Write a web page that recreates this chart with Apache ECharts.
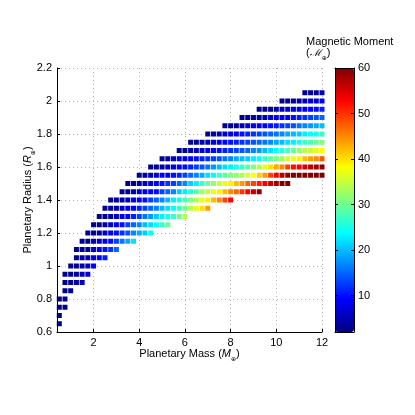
<!DOCTYPE html>
<html><head><meta charset="utf-8">
<script src="https://cdn.jsdelivr.net/npm/echarts@6/dist/echarts.min.js"></script>
<style>html,body{margin:0;padding:0;background:#fff}#c{width:415px;height:415px}</style>
</head><body><div id="c"></div>
<script>
// Tick labels
const xTicks = [2, 4, 6, 8, 10, 12];
const cbTicks = [10, 20, 30, 40, 50, 60];
const massStep = 0.25;

// Magnetic moment per radius row, starting at the row's first mass
const r065 = [2];
const r070 = [2];
const r075 = [2, 3];
const r080 = [2, 3];
const r085 = [3, 3];
const r090 = [3, 3, 4, 5];
const r095 = [3, 3, 4, 5, 7];
const r100 = [3, 3, 4, 6, 9];
const r105 = [3, 4, 5, 7, 9, 11];
const r110 = [3, 3, 4, 6, 8, 10, 12, 15];
const r115 = [3, 3, 4, 6, 8, 10, 13, 16, 19, 22];
const r120 = [3, 3, 4, 6, 8, 10, 12, 14, 17, 19, 21, 24];
const r125 = [3, 3, 4, 6, 8, 10, 13, 15, 17, 20, 22, 24, 27, 30];
const r130 = [3, 3, 4, 6, 8, 9, 11, 13, 16, 18, 21, 23, 25, 27, 30, 34];
const r135 = [3, 3, 4, 6, 8, 9, 11, 13, 15, 17, 20, 22, 24, 27, 30, 34, 37, 40, 44];
const r140 = [3, 3, 4, 6, 8, 9, 10, 13, 15, 17, 20, 23, 25, 28, 31, 34, 37, 39, 42, 45, 49, 53];
const r145 = [3, 3, 4, 6, 8, 9, 10, 13, 15, 17, 21, 23, 26, 29, 33, 35, 37, 39, 42, 45, 47, 50, 53, 56, 59];
const r150 = [3, 3, 4, 6, 7, 9, 10, 12, 13, 15, 17, 21, 23, 27, 30, 32, 35, 37, 39, 42, 44, 47, 49, 51, 53, 56, 58, 60, 60];
const r155 = [3, 4, 5, 7, 8, 9, 10, 11, 13, 15, 17, 19, 22, 24, 27, 29, 31, 32, 34, 36, 38, 41, 44, 49, 53, 57, 59, 60, 60, 60, 60, 60, 60];
const r160 = [3, 3, 4, 6, 8, 9, 10, 11, 13, 14, 16, 18, 20, 22, 23, 25, 27, 29, 31, 34, 37, 40, 43, 45, 49, 52, 53, 55, 57, 58, 59];
const r165 = [3, 4, 5, 7, 8, 9, 10, 11, 12, 13, 14, 16, 17, 19, 20, 21, 23, 24, 27, 29, 31, 33, 36, 37, 39, 42, 44, 45, 48];
const r170 = [3, 3, 4, 5, 6, 8, 9, 10, 11, 12, 13, 14, 15, 17, 18, 20, 22, 24, 26, 28, 30, 32, 34, 35, 37, 38];
const r175 = [3, 3, 4, 5, 7, 8, 9, 10, 11, 12, 13, 14, 15, 16, 17, 19, 20, 22, 23, 25, 27, 28, 30, 31];
const r180 = [3, 4, 5, 6, 8, 9, 10, 11, 12, 13, 14, 15, 16, 17, 19, 20, 21, 23, 24, 25, 27];
const r185 = [3, 3, 4, 5, 7, 8, 9, 9, 10, 11, 12, 13, 14, 16, 17, 18, 19, 20];
const r190 = [3, 3, 4, 4, 5, 7, 8, 9, 9, 10, 11, 12, 13, 14, 15];
const r195 = [3, 3, 3, 4, 5, 6, 7, 8, 9, 9, 10, 11];
const r200 = [3, 3, 3, 4, 5, 6, 7, 8];
const r205 = [3, 3, 4, 5];

// [radius, first mass, values]
const rows = [
  [0.65, 0.5, r065], [0.70, 0.5, r070], [0.75, 0.5, r075], [0.80, 0.5, r080],
  [0.85, 0.75, r085], [0.90, 0.75, r090], [0.95, 0.75, r095], [1.00, 1.0, r100],
  [1.05, 1.25, r105], [1.10, 1.25, r110], [1.15, 1.5, r115], [1.20, 1.75, r120],
  [1.25, 2.0, r125], [1.30, 2.25, r130], [1.35, 2.5, r135], [1.40, 2.75, r140],
  [1.45, 3.25, r145], [1.50, 3.5, r150], [1.55, 4.0, r155], [1.60, 4.5, r160],
  [1.65, 5.0, r165], [1.70, 5.75, r170], [1.75, 6.25, r175], [1.80, 7.0, r180],
  [1.85, 7.75, r185], [1.90, 8.5, r190], [1.95, 9.25, r195], [2.00, 10.25, r200],
  [2.05, 11.25, r205]
];

const points = [];
rows.forEach(([r, m0, vals]) => vals.forEach((v, i) => points.push([m0 + i * massStep, r, v])));

const jet = ['#000080', '#0000ff', '#0080ff', '#00ffff', '#80ff80', '#ffff00', '#ff8000', '#ff0000', '#800000'];
const FONT = 'Liberation Sans, Arial, Helvetica, sans-serif';
const gridLine = { show: true, lineStyle: { color: '#b4b4b4', width: 1, type: [1, 3] } };
const txt = { fontFamily: FONT, fontSize: 11, color: '#000', padding: [0, 0, 3, 0], verticalAlign: 'bottom' };
const it = Object.assign({}, txt, { fontStyle: 'italic' });
const sub = { fontFamily: 'DejaVu Sans, sans-serif', fontSize: 6, color: '#000', verticalAlign: 'bottom' };

const chart = echarts.init(document.getElementById('c'), null, { renderer: 'canvas' });
chart.setOption({
  animation: false,
  backgroundColor: '#fff',
  title: {
    text: 'Magnetic Moment\n{p|(}{m|ℳ}{s|⊕}{p|)}',
    left: 306, top: 35, padding: 0,
    textStyle: {
      fontFamily: FONT, fontSize: 11, fontWeight: 'normal', color: '#000', lineHeight: 13,
      rich: {
        p: { fontFamily: FONT, fontSize: 11, color: '#000', padding: [0, 0, 3, 0], verticalAlign: 'bottom' },
        m: { fontFamily: 'DejaVu Serif, serif', fontSize: 10, fontStyle: 'italic', color: '#000', padding: [0, 0, 3, 0], verticalAlign: 'bottom' },
        s: sub
      }
    }
  },
  grid: [
    { left: 57, right: 93, top: 68, bottom: 83 },
    { left: 335, width: 19, top: 68, height: 264 }
  ],
  xAxis: [
    {
      gridIndex: 0, type: 'value', min: 0.4, max: 12,
      axisLine: { show: true, onZero: false, lineStyle: { color: '#000', width: 1 } },
      axisTick: { show: true, inside: true, length: 3, customValues: xTicks, lineStyle: { color: '#000' } },
      axisLabel: { customValues: xTicks, fontFamily: FONT, fontSize: 11, color: '#000', margin: 5 },
      splitLine: gridLine,
      name: '{t|Planetary Mass (}{i|M}{s|⊕}{t|)}',
      nameLocation: 'middle', nameGap: 16, nameMoveOverlap: false,
      nameTextStyle: { rich: { t: txt, i: it, s: sub } }
    },
    { gridIndex: 1, type: 'value', min: 0, max: 1, position: 'bottom', z: 10,
      axisLine: { show: true, onZero: false, lineStyle: { color: '#000' } },
      axisTick: { show: false }, axisLabel: { show: false }, splitLine: { show: false } },
    { gridIndex: 1, type: 'value', min: 0, max: 1, position: 'top', z: 10,
      axisLine: { show: true, onZero: false, lineStyle: { color: '#000' } },
      axisTick: { show: false }, axisLabel: { show: false }, splitLine: { show: false } }
  ],
  yAxis: [
    {
      gridIndex: 0, type: 'value', min: 0.6, max: 2.2, interval: 0.2,
      axisLine: { show: true, onZero: false, lineStyle: { color: '#000', width: 1 } },
      axisTick: { show: true, inside: true, length: 3, lineStyle: { color: '#000' } },
      axisLabel: { fontFamily: FONT, fontSize: 11, color: '#000', margin: 5 },
      splitLine: gridLine,
      name: '{t|Planetary Radius (}{i|R}{s|⊕}{t|)}',
      nameLocation: 'middle', nameGap: 21, nameRotate: 90, nameMoveOverlap: false,
      nameTextStyle: { rich: { t: txt, i: it, s: sub } }
    },
    { gridIndex: 1, type: 'value', min: 2, max: 60, position: 'right', z: 10,
      axisLine: { show: true, onZero: false, lineStyle: { color: '#000' } },
      axisTick: { show: true, inside: true, length: 3, customValues: cbTicks, lineStyle: { color: '#000' } },
      axisLabel: { customValues: cbTicks, fontFamily: FONT, fontSize: 11, color: '#000', margin: 4 },
      splitLine: { show: false } },
    { gridIndex: 1, type: 'value', min: 2, max: 60, position: 'left', z: 10,
      axisLine: { show: true, onZero: false, lineStyle: { color: '#000' } },
      axisTick: { show: true, inside: true, length: 3, customValues: cbTicks, lineStyle: { color: '#000' } },
      axisLabel: { show: false }, splitLine: { show: false } }
  ],
  visualMap: {
    type: 'continuous', min: 2, max: 60, dimension: 2, seriesIndex: 0,
    inRange: { color: jet },
    orient: 'vertical', left: 335, top: 68, itemWidth: 19, itemHeight: 264,
    padding: 0, calculable: false, hoverLink: false
  },
  series: [{
    type: 'scatter', xAxisIndex: 0, yAxisIndex: 0,
    symbol: 'rect', symbolSize: 5, data: points,
    itemStyle: { opacity: 1 }, silent: true
  }]
});
</script></body></html>
